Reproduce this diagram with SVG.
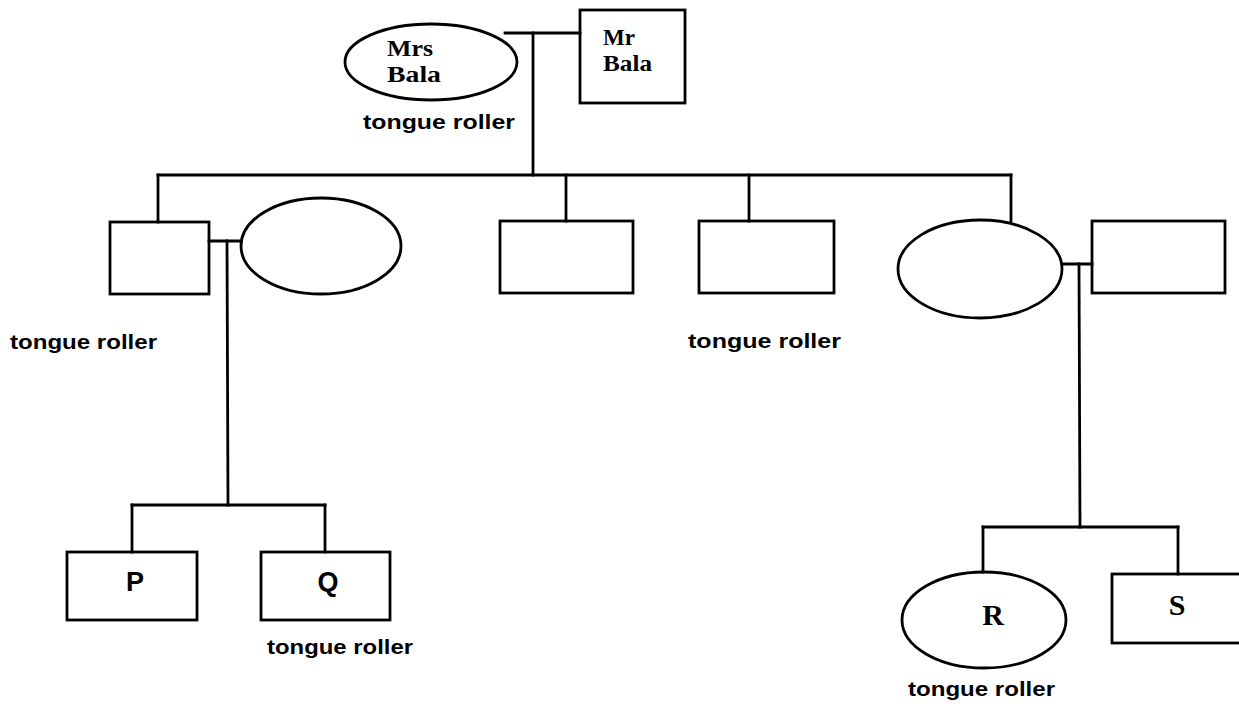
<svg xmlns="http://www.w3.org/2000/svg" width="1239" height="707" viewBox="0 0 1239 707">
  <style>
    .shape { fill: none; stroke: #000; stroke-width: 2.8; }
    .link { fill: none; stroke: #000; stroke-width: 2.8; stroke-linecap: square; }
    .name { font-family: "Liberation Serif", "Times New Roman", serif; font-weight: bold; font-size: 23px; fill: #000; }
    .letter-serif { font-family: "Liberation Serif", "Times New Roman", serif; font-weight: bold; font-size: 30px; fill: #000; text-anchor: middle; }
    .letter-sans { font-family: "Liberation Sans", Arial, sans-serif; font-weight: bold; font-size: 27px; fill: #000; text-anchor: middle; }
    .trait { font-family: "Liberation Sans", Arial, sans-serif; font-weight: bold; font-size: 21px; fill: #000; }
  </style>
  <rect width="1239" height="707" fill="#fff"/>

  <!-- connectors -->
  <g id="connectors">
    <!-- parents' marriage line and descent -->
    <polyline class="link" points="505,33 580,33"/>
    <polyline class="link" points="533,33 533,175"/>
    <!-- sibling line of generation II -->
    <polyline class="link" points="158,175 1011,175"/>
    <polyline class="link" points="158,175 158,222"/>
    <polyline class="link" points="566,175 566,221"/>
    <polyline class="link" points="749,175 749,221"/>
    <polyline class="link" points="1011,175 1011,221"/>
    <!-- left couple and children P, Q -->
    <polyline class="link" points="209,241 241,241"/>
    <polyline class="link" points="227,241 228,505"/>
    <polyline class="link" points="132,505 325,505"/>
    <polyline class="link" points="132,505 132,552"/>
    <polyline class="link" points="325,505 325,552"/>
    <!-- right couple and children R, S -->
    <polyline class="link" points="1062,264 1092,264"/>
    <polyline class="link" points="1079,264 1080,527"/>
    <polyline class="link" points="983,527 1178,527"/>
    <polyline class="link" points="983,527 983,572"/>
    <polyline class="link" points="1178,527 1178,574"/>
  </g>

  <!-- generation I -->
  <g id="mrs-bala">
    <ellipse class="shape" cx="431" cy="62" rx="86" ry="38"/>
    <text class="name" x="387" y="56" textLength="46" lengthAdjust="spacingAndGlyphs">Mrs</text>
    <text class="name" x="387" y="82" textLength="54" lengthAdjust="spacingAndGlyphs">Bala</text>
    <text class="trait" x="363" y="129" textLength="152" lengthAdjust="spacingAndGlyphs">tongue roller</text>
  </g>
  <g id="mr-bala">
    <rect class="shape" x="580" y="10" width="105" height="93"/>
    <text class="name" x="603" y="45" textLength="32" lengthAdjust="spacingAndGlyphs">Mr</text>
    <text class="name" x="603" y="71" textLength="49" lengthAdjust="spacingAndGlyphs">Bala</text>
  </g>

  <!-- generation II -->
  <g id="son-1">
    <rect class="shape" x="110" y="222" width="99" height="72"/>
    <text class="trait" x="10" y="349" textLength="147" lengthAdjust="spacingAndGlyphs">tongue roller</text>
  </g>
  <g id="son-1-wife">
    <ellipse class="shape" cx="321" cy="246" rx="80" ry="48"/>
  </g>
  <g id="son-2">
    <rect class="shape" x="500" y="221" width="133" height="72"/>
  </g>
  <g id="son-3">
    <rect class="shape" x="699" y="221" width="135" height="72"/>
    <text class="trait" x="688" y="348" textLength="153" lengthAdjust="spacingAndGlyphs">tongue roller</text>
  </g>
  <g id="daughter">
    <ellipse class="shape" cx="980" cy="269" rx="82" ry="49"/>
  </g>
  <g id="daughter-husband">
    <rect class="shape" x="1092" y="221" width="133" height="72"/>
  </g>

  <!-- generation III -->
  <g id="child-p">
    <rect class="shape" x="67" y="552" width="130" height="68"/>
    <text class="letter-sans" x="135" y="591">P</text>
  </g>
  <g id="child-q">
    <rect class="shape" x="261" y="552" width="129" height="68"/>
    <text class="letter-sans" x="328" y="591">Q</text>
    <text class="trait" x="267" y="654" textLength="146" lengthAdjust="spacingAndGlyphs">tongue roller</text>
  </g>
  <g id="child-r">
    <ellipse class="shape" cx="984" cy="620" rx="82" ry="48"/>
    <text class="letter-serif" x="993" y="625">R</text>
    <text class="trait" x="908" y="696" textLength="147" lengthAdjust="spacingAndGlyphs">tongue roller</text>
  </g>
  <g id="child-s">
    <rect class="shape" x="1112" y="574" width="140" height="69"/>
    <text class="letter-serif" x="1177" y="615">S</text>
  </g>
</svg>
